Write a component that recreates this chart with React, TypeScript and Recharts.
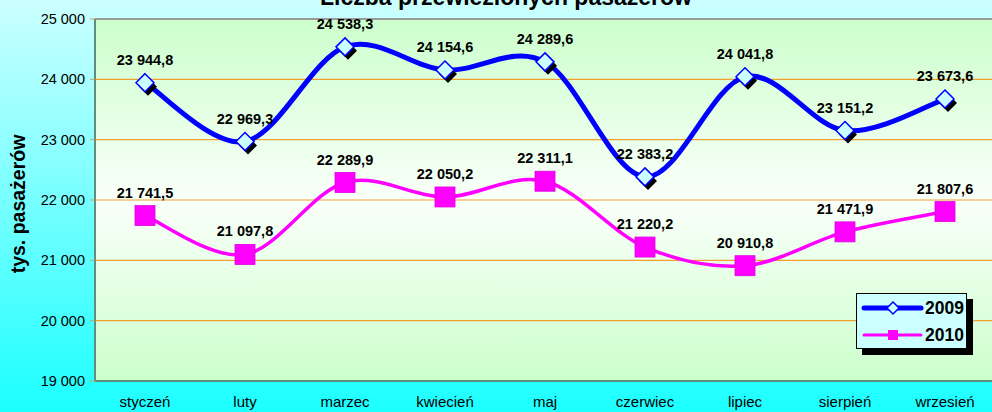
import React from 'react';
import { LineChart, Line, XAxis, YAxis, CartesianGrid, ReferenceLine, Legend, LabelList } from 'recharts';

const MONTHS = ['styczeń', 'luty', 'marzec', 'kwiecień', 'maj', 'czerwiec', 'lipiec', 'sierpień', 'wrzesień'];
const VALUES_2009 = [23944.8, 22969.3, 24538.3, 24154.6, 24289.6, 22383.2, 24041.8, 23151.2, 23673.6];
const VALUES_2010 = [21741.5, 21097.8, 22289.9, 22050.2, 22311.1, 21220.2, 20910.8, 21471.9, 21807.6];
const Y_TICKS = [19000, 20000, 21000, 22000, 23000, 24000, 25000];
const SERIES_NAMES = ['2009', '2010'];
const TITLE = 'Liczba przewiezionych pasażerów';
const Y_LABEL = 'tys. pasażerów';

const data = MONTHS.map((m, i) => ({ month: m, y2009: VALUES_2009[i], y2010: VALUES_2010[i] }));

const FONT = "'Liberation Sans', Arial, sans-serif";
const BLUE = '#0000FF';
const MAGENTA = '#FF00FF';

const groupThousands = (s: string) => s.replace(/\B(?=(\d{3})+(?!\d))/g, ' ');
const fmtValue = (v: any) => {
  const [i, d] = Number(v).toFixed(1).split('.');
  return groupThousands(i) + ',' + d;
};
const fmtTick = (v: any) => groupThousands(String(Math.round(Number(v))));

// Excel-like smoothed line (Catmull-Rom through the points)
function excelCurve(context: any) {
  let pts: [number, number][] = [];
  return {
    areaStart() {},
    areaEnd() {},
    lineStart() {
      pts = [];
    },
    lineEnd() {
      const n = pts.length;
      if (n === 0) return;
      context.moveTo(pts[0][0], pts[0][1]);
      for (let i = 0; i < n - 1; i++) {
        const p0 = pts[Math.max(0, i - 1)];
        const p1 = pts[i];
        const p2 = pts[i + 1];
        const p3 = pts[Math.min(n - 1, i + 2)];
        context.bezierCurveTo(
          p1[0] + (p2[0] - p0[0]) / 6,
          p1[1] + (p2[1] - p0[1]) / 6,
          p2[0] - (p3[0] - p1[0]) / 6,
          p2[1] - (p3[1] - p1[1]) / 6,
          p2[0],
          p2[1]
        );
      }
    },
    point(x: number, y: number) {
      pts.push([+x, +y]);
    },
  };
}

const DiamondDot = (props: any) => {
  const { cx, cy, index } = props;
  if (cx == null || cy == null) return <g key={`d-${index}`} />;
  const r = 9;
  const pts = (ox: number, oy: number) =>
    `${cx + ox},${cy - r + oy} ${cx + r + ox},${cy + oy} ${cx + ox},${cy + r + oy} ${cx - r + ox},${cy + oy}`;
  return (
    <g key={`d-${index}`}>
      <polygon points={pts(3, 4)} fill="#000" />
      <polygon points={pts(0, 0)} fill="#CCFFFF" stroke={BLUE} strokeWidth={1.5} />
    </g>
  );
};

const SquareDot = (props: any) => {
  const { cx, cy, index } = props;
  if (cx == null || cy == null) return <g key={`s-${index}`} />;
  const h = 10;
  return (
    <g key={`s-${index}`}>
      <rect x={cx - h} y={cy - h} width={2 * h} height={2 * h} fill={MAGENTA} stroke="#E000E0" strokeWidth={0.8} />
    </g>
  );
};

const LegendBox = () => (
  <div
    style={{
      boxSizing: 'border-box',
      width: 111,
      height: 56,
      background: '#CCFFFF',
      border: '1px solid #000',
      boxShadow: '6px 6px 0 #000',
      fontFamily: FONT,
    }}
  >
    {SERIES_NAMES.map((name, i) => (
      <div key={name} style={{ display: 'flex', alignItems: 'center', height: 27 }}>
        <svg width={64} height={16} style={{ marginLeft: 4 }}>
          <line x1={3} y1={8} x2={60} y2={8} stroke={i === 0 ? BLUE : MAGENTA} strokeWidth={i === 0 ? 5 : 3} strokeLinecap="round" />
          {i === 0 ? (
            <polygon points="32,2 38,8 32,14 26,8" fill="#CCFFFF" stroke={BLUE} strokeWidth={1.5} />
          ) : (
            <rect x={27} y={3} width={10} height={10} fill={MAGENTA} />
          )}
        </svg>
        <span style={{ fontWeight: 'bold', fontSize: 17.5, color: '#000', marginLeft: 0, lineHeight: '16px' }}>{name}</span>
      </div>
    ))}
  </div>
);

const YLabel = (props: any) => {
  const vb = props.viewBox || { x: 0, y: 19, width: 95, height: 362 };
  const x = vb.x + 18;
  const y = vb.y + vb.height / 2 + 4;
  return (
    <text
      x={x}
      y={y}
      transform={`rotate(-90, ${x}, ${y})`}
      textAnchor="middle"
      dominantBaseline="central"
      fontFamily={FONT}
      fontWeight="bold"
      fontSize={19.5}
      fill="#000"
    >
      {Y_LABEL}
    </text>
  );
};

export default function App() {
  return (
    <div
      style={{
        position: 'absolute',
        left: 0,
        top: 0,
        width: 992,
        height: 412,
        overflow: 'hidden',
        background: 'linear-gradient(to bottom, #CCFFFF 0%, #1CFFFF 100%)',
      }}
    >
      <LineChart width={1000} height={412} data={data} margin={{ top: 19, right: 5, bottom: 0, left: 0 }}>
        <defs>
          <linearGradient id="plotBg" x1="0" y1="0" x2="0" y2="1">
            <stop offset="0%" stopColor="#CCFFCC" />
            <stop offset="50%" stopColor="#FAFFFA" />
            <stop offset="100%" stopColor="#CCFFCC" />
          </linearGradient>
        </defs>
        <CartesianGrid vertical={false} stroke="#F0A030" strokeWidth={1.2} fill="url(#plotBg)" fillOpacity={1} />
        <XAxis
          dataKey="month"
          padding={{ left: 50, right: 50 }}
          interval={0}
          height={31}
          tickLine={false}
          tickSize={5}
          tickMargin={10}
          axisLine={{ stroke: '#5E8E7E', strokeWidth: 2 }}
          tick={{ fill: '#000', fontSize: 15, fontFamily: FONT }}
        />
        <YAxis
          width={95}
          domain={[19000, 25000]}
          ticks={Y_TICKS}
          interval={0}
          allowDataOverflow
          tickFormatter={fmtTick}
          tickSize={5}
          tickMargin={5}
          tickLine={{ stroke: '#C8A060' }}
          axisLine={{ stroke: '#5E8E7E', strokeWidth: 2 }}
          tick={{ fill: '#000', fontSize: 14.5, fontFamily: FONT }}
          label={{ position: 'insideLeft', content: YLabel }}
        />
        <ReferenceLine y={25000} stroke="#9A9A9A" strokeWidth={2} />
        <Legend
          layout="vertical"
          align="center"
          verticalAlign="middle"
          wrapperStyle={{ position: 'absolute', left: 856, top: 293, width: 111, height: 56 }}
          content={() => <LegendBox />}
        />
        <Line
          type={excelCurve as any}
          dataKey="y2010"
          name={SERIES_NAMES[1]}
          stroke={MAGENTA}
          strokeWidth={3.5}
          dot={SquareDot}
          activeDot={false}
          isAnimationActive={false}
        >
          <LabelList
            dataKey="y2010"
            position="top"
            offset={18}
            formatter={fmtValue}
            fill="#000"
            fontSize={14.5}
            fontWeight="bold"
            fontFamily={FONT}
          />
        </Line>
        <Line
          type={excelCurve as any}
          dataKey="y2009"
          name={SERIES_NAMES[0]}
          stroke={BLUE}
          strokeWidth={5}
          dot={DiamondDot}
          activeDot={false}
          isAnimationActive={false}
        >
          <LabelList
            dataKey="y2009"
            position="top"
            offset={18}
            formatter={fmtValue}
            fill="#000"
            fontSize={14.5}
            fontWeight="bold"
            fontFamily={FONT}
          />
        </Line>
        <text x={506} y={5} textAnchor="middle" fontFamily={FONT} fontWeight="bold" fontSize={23} fill="#000">
          {TITLE}
        </text>
      </LineChart>
    </div>
  );
}
